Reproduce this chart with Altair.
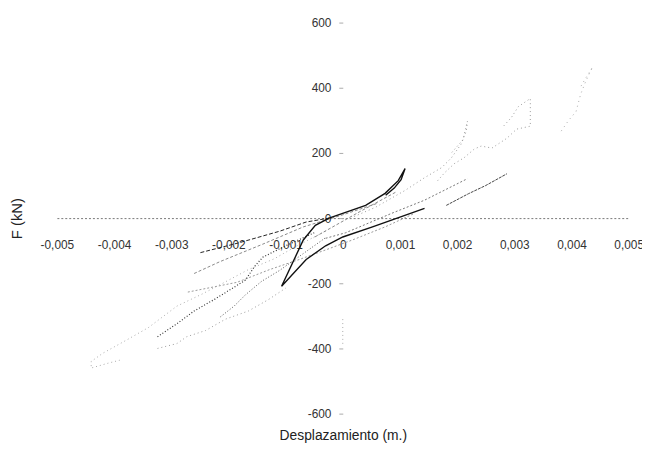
import altair as alt
import pandas as pd

# ---- data (displacement in m, force in kN) ----
a_x = [0.00143, 0.00052, 0.0, -0.0003, -0.00064, -0.00107, -0.00069, -0.00048, -0.00024, 0.0004, 0.00074,
       0.00097, 0.00109, 0.00102, 0.0009, 0.00075]
a_y = [30, -27, -58, -85, -127, -209, -67, -22, 0, 39, 76, 115, 152, 118, 92, 70]

b_x = [-0.00249, -0.0018, -0.0011, -0.00064, -0.00024]
b_y = [-106, -75, -40, -12, 0]

c_x = [0.00181, 0.0022, 0.0025, 0.00287]
c_y = [39, 75, 100, 136]

d_x = [-0.0003, 0.00005, 0.00086, 0.00143, 0.00218]
d_y = [-62, -45, 15, 55, 121]

e_x = [0.0002, 0.00057, 0.00109, 0.00143, 0.00173, 0.0019, 0.00207, 0.00216, 0.00218, 0.0021, 0.0019]
e_y = [5, 33, 85, 124, 155, 185, 227, 267, 297, 240, 200]

f_x = [0.00166, 0.00178, 0.00195, 0.00212, 0.0023, 0.00242, 0.00261, 0.00287, 0.00304, 0.00328, 0.00328,
       0.00307, 0.00295, 0.0028]
f_y = [115, 139, 167, 185, 212, 221, 215, 245, 273, 282, 367, 342, 309, 280]

g_x = [0.00382, 0.00395, 0.00408, 0.00416, 0.00425, 0.00437, 0.00425, 0.00415]
g_y = [267, 300, 327, 380, 420, 464, 430, 400]

h_x = [-0.00324, -0.0029, -0.0026, -0.00225, -0.0019, -0.0017, -0.00155, -0.0014, -0.001, -0.0005]
h_y = [-364, -324, -285, -250, -212, -190, -150, -120, -85, -45]

i_x = [-0.00214, -0.0019, -0.0017, -0.00142, -0.0011, -0.0007, -0.0003]
i_y = [-303, -270, -235, -194, -160, -110, -60]

j_x = [-0.0003, -0.0008, -0.0012, -0.00165, -0.0021, -0.00246, -0.0029, -0.0034, -0.0038, -0.0042, -0.0044,
       -0.0044, -0.0041, -0.0039]
j_y = [-40, -85, -125, -158, -200, -233, -270, -336, -376, -415, -440, -460, -445, -436]

k_x = [-0.00324, -0.0029, -0.00273, -0.0024, -0.00205, -0.00165, -0.0013, -0.001]
k_y = [-400, -385, -364, -345, -310, -285, -250, -215]

l_x = [-0.00271, -0.00185, -0.00128, -0.00076, -0.00029, 0.00017, 0.00074, 0.00126]
l_y = [-227, -197, -158, -127, -97, -67, -27, 15]

m_x = [-0.0026, -0.00214, -0.0014, -0.00069, 0.0, 0.0006]
m_y = [-170, -133, -80, -27, 10, 45]

n_x = [0.0, 0.0]
n_y = [-310, -392]

o_x = [0.00092, 0.0003, -0.00052]
o_y = [79, 20, -61]

x_ticks = [-0.005, -0.004, -0.003, -0.002, -0.001, 0.0, 0.001, 0.002, 0.003, 0.004, 0.005]
y_ticks = [-600, -400, -200, 0, 200, 400, 600]

series = [
    ("l", l_x, l_y), ("m", m_x, m_y), ("j", j_x, j_y), ("k", k_x, k_y),
    ("e", e_x, e_y), ("f", f_x, f_y), ("g", g_x, g_y), ("d", d_x, d_y),
    ("i", i_x, i_y), ("h", h_x, h_y), ("n", n_x, n_y), ("o", o_x, o_y),
    ("c", c_x, c_y), ("b", b_x, b_y), ("a", a_x, a_y),
]

styles = {
    "a": dict(color="#111111", strokeWidth=1.4),
    "b": dict(color="#222222", strokeWidth=1.0, strokeDash=[4, 2]),
    "c": dict(color="#444444", strokeWidth=1.0, strokeDash=[3, 1]),
    "d": dict(color="#777777", strokeWidth=1.0, strokeDash=[2, 2]),
    "e": dict(color="#999999", strokeWidth=1.0, strokeDash=[1, 3]),
    "f": dict(color="#999999", strokeWidth=1.0, strokeDash=[1, 3]),
    "g": dict(color="#aaaaaa", strokeWidth=1.0, strokeDash=[1, 4]),
    "h": dict(color="#333333", strokeWidth=1.2, strokeDash=[1, 2]),
    "i": dict(color="#555555", strokeWidth=1.0, strokeDash=[1, 2]),
    "j": dict(color="#aaaaaa", strokeWidth=1.0, strokeDash=[1, 3]),
    "k": dict(color="#999999", strokeWidth=1.0, strokeDash=[1, 3]),
    "l": dict(color="#999999", strokeWidth=1.0, strokeDash=[2, 2]),
    "m": dict(color="#888888", strokeWidth=1.0, strokeDash=[3, 2]),
    "n": dict(color="#aaaaaa", strokeWidth=1.0, strokeDash=[1, 3]),
    "o": dict(color="#888888", strokeWidth=1.0, strokeDash=[3, 2]),
}

PLOT_W = 579
PLOT_H = 396
FONT = "Liberation Sans"

x_scale = alt.Scale(domain=[-0.005, 0.005], nice=False, zero=False)
y_scale = alt.Scale(domain=[-600, 600], nice=False, zero=False)

x_axis = alt.Axis(
    orient="bottom", offset=-PLOT_H / 2, values=x_ticks, ticks=False, grid=False,
    domain=True, domainColor="#777777", domainDash=[2, 2], domainWidth=1,
    labelPadding=22, labelFont=FONT, labelFontSize=12, labelColor="#333333",
    labelFlush=False, labelOverlap=False,
    labelExpr="datum.value == 0 ? '0' : (datum.value < 0 ? '-' : '') + replace(format(abs(datum.value), '.3f'), '.', ',')",
    title="Desplazamiento (m.)", titleFont=FONT, titleFontSize=14, titleFontWeight="normal",
    titleColor="#222222", titleY=220, titleBaseline="middle", titleAlign="center",
)
y_axis = alt.Axis(
    orient="left", offset=-PLOT_W / 2, values=y_ticks, ticks=True, tickSize=4, tickColor="#aaaaaa",
    grid=False, domain=False,
    labelPadding=8, labelFont=FONT, labelFontSize=12, labelColor="#333333",
    labelFlush=False, labelOverlap=False,
    labelExpr="(datum.value < 0 ? '-' : '') + format(abs(datum.value), 'd')",
    title="F (kN)", titleFont=FONT, titleFontSize=15, titleFontWeight="normal",
    titleColor="#222222", titleX=-330, titleY=198, titleAngle=270,
    titleBaseline="middle", titleAlign="center",
)

layers = []
for name, xs, ys in series:
    df = pd.DataFrame({"x": xs, "y": ys, "i": list(range(len(xs)))})
    layers.append(
        alt.Chart(df).mark_line(**styles[name]).encode(
            x=alt.X("x:Q", scale=x_scale, axis=x_axis),
            y=alt.Y("y:Q", scale=y_scale, axis=y_axis),
            order="i:Q",
        )
    )

chart = alt.layer(*layers).properties(
    width=PLOT_W, height=PLOT_H,
    autosize=alt.AutoSizeParams(type="none"),
    padding={"left": 49.5, "top": 12, "right": 13.5, "bottom": 29},
    background="white",
).configure_view(stroke=None)

chart.save("out.html", embed_options={"renderer": "svg", "actions": False})
